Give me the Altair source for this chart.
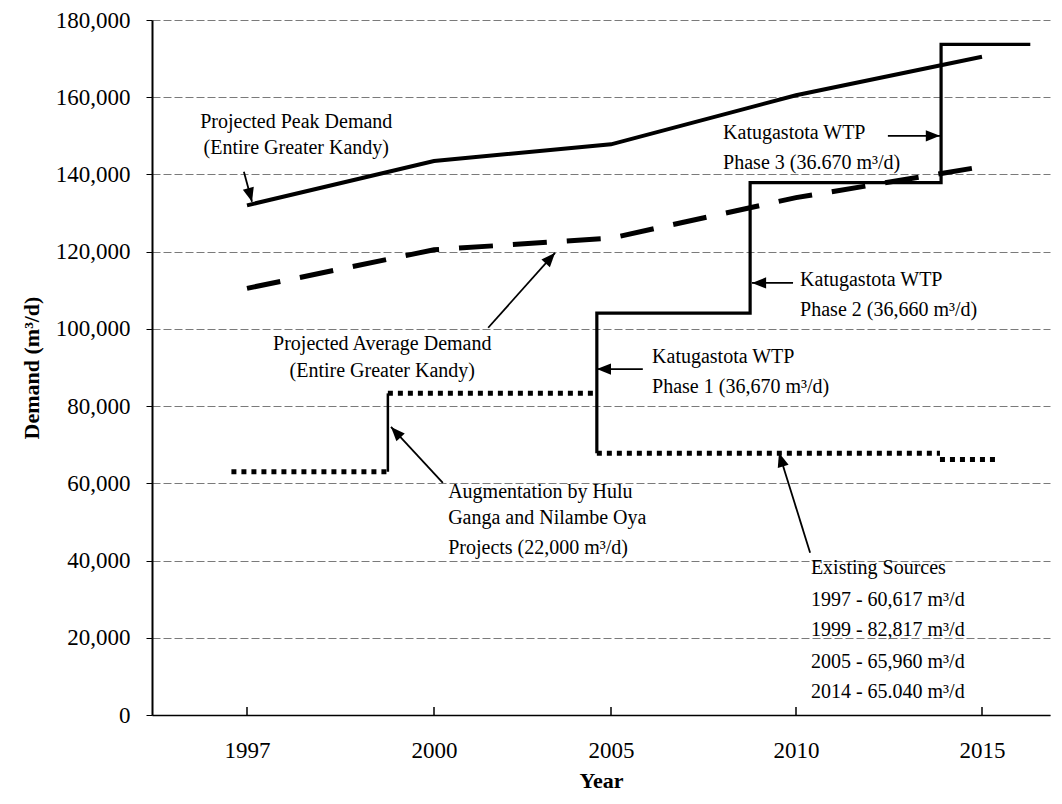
import math
import altair as alt
import pandas as pd
import numpy as np

# ---------------- data ----------------
years = [1997, 2000, 2005, 2010, 2015]
peak_demand = [132000, 143500, 147800, 160500, 170500]
avg_demand = [110500, 120500, 123500, 134000, 142000]

# existing sources (dotted), four horizontal segments
exist_seg = [1, 1, 2, 2, 3, 3, 4, 4]
exist_year = [1996.75, 1999.26, 1999.26, 2004.6, 2004.6, 2013.87, 2013.87, 2015.43]
exist_value = [63000, 63000, 83300, 83300, 67800, 67800, 66200, 66200]

# augmentation by Hulu Ganga / Nilambe Oya (vertical step)
aug_year = [1999.26, 1999.26]
aug_value = [63000, 83300]

# Katugastota WTP capacity steps
cap_year = [2004.6, 2004.6, 2008.76, 2008.76, 2013.9, 2013.9, 2016.3]
cap_value = [67800, 104100, 104100, 137900, 137900, 173700, 173700]

# annotation texts (centre aligned)
c_text = ["Projected Peak Demand", "(Entire Greater Kandy)",
          "Projected Average Demand", "(Entire Greater Kandy)"]
c_year = [1997.79, 1997.79, 1999.17, 1999.17]
c_value = [153600, 146900, 96100, 89100]

# annotation texts (left aligned)
l_text = ["Katugastota WTP", "Phase 3  (36.670 m³/d)",
          "Katugastota WTP", "Phase 2  (36,660 m³/d)",
          "Katugastota WTP", "Phase 1 (36,670 m³/d)",
          "Augmentation by Hulu", "Ganga and Nilambe Oya", "Projects (22,000 m³/d)",
          "Existing Sources", "1997 - 60,617 m³/d", "1999 - 82,817 m³/d",
          "2005 - 65,960 m³/d", "2014 - 65.040 m³/d"]
l_year = [2008.03, 2008.03, 2010.11, 2010.11, 2006.11, 2006.11,
          2000.40, 2000.40, 2000.40,
          2010.40, 2010.40, 2010.40, 2010.40, 2010.40]
l_value = [150800, 143000, 112700, 104900, 92750, 84970,
           57800, 51000, 43300,
           38100, 29800, 22000, 13700, 5960]

# arrows: tail -> head
arr_x1 = [1996.95, 2012.47, 2009.92, 2005.86, 2001.53, 2000.25, 2010.38]
arr_y1 = [140700, 150000, 111900, 89600, 100300, 60100, 42000]
arr_x2 = [1997.08, 2013.87, 2008.81, 2004.60, 2003.42, 1999.31, 2009.54]
arr_y2 = [132900, 150000, 111900, 89600, 119700, 74600, 67900]

# ---------------- layout ----------------
W, H = 898, 695
X_DOMAIN = [1995.476, 1997, 2000, 2005, 2010, 2015, 2016.83]
X_RANGE = [0, 95, 282, 459, 644, 830, 898]
Y_MAX = 180000
FONT = "Liberation Serif"

xscale = alt.Scale(domain=X_DOMAIN, range=X_RANGE, nice=False, zero=False)
yscale = alt.Scale(domain=[0, Y_MAX], nice=False, zero=False)

def px(x):
    return float(np.interp(x, X_DOMAIN, X_RANGE))

def py(v):
    return H - v / Y_MAX * H

angles = []
for a, b, c, d in zip(arr_x1, arr_y1, arr_x2, arr_y2):
    dx = px(c) - px(a)
    dy = py(d) - py(b)
    angles.append(math.degrees(math.atan2(dx, -dy)) % 360)

demand = pd.DataFrame({"year": years, "peak": peak_demand, "avg": avg_demand})
exist = pd.DataFrame({"seg": exist_seg, "year": exist_year, "value": exist_value,
                      "idx": list(range(len(exist_seg)))})
aug = pd.DataFrame({"year": aug_year, "value": aug_value, "idx": [0, 1]})
cap = pd.DataFrame({"year": cap_year, "value": cap_value, "idx": list(range(len(cap_year)))})
ctext = pd.DataFrame({"t": c_text, "year": c_year, "value": c_value})
ltext = pd.DataFrame({"t": l_text, "year": l_year, "value": l_value})
arrows = pd.DataFrame({"x1": arr_x1, "y1": arr_y1, "x2": arr_x2, "y2": arr_y2, "ang": angles})
ticks = pd.DataFrame({"year": years})

x_axis = alt.Axis(values=years, format="d", grid=False, ticks=False, labelPadding=24,
                  title="Year", titlePadding=8, domainColor="black", domainWidth=1.5)
y_axis = alt.Axis(values=list(range(0, Y_MAX + 1, 20000)), format=",d", grid=True,
                  gridColor="#7a7a7a", gridDash=[8, 3], gridWidth=1,
                  tickSize=6, tickColor="black", labelPadding=16,
                  domainColor="black", domainWidth=2,
                  title="Demand (m³/d)", titlePadding=12)

peak = alt.Chart(demand).mark_line(color="black", strokeWidth=4).encode(
    x=alt.X("year:Q", scale=xscale, axis=x_axis),
    y=alt.Y("peak:Q", scale=yscale, axis=y_axis),
)
avg = alt.Chart(demand).mark_line(color="black", strokeWidth=5, strokeDash=[34, 20]).encode(
    x="year:Q", y="avg:Q")
ex = alt.Chart(exist).mark_line(color="black", strokeWidth=5, strokeDash=[5, 5],
                                strokeCap="butt").encode(
    x="year:Q", y="value:Q", detail="seg:N", order="idx:Q")
augl = alt.Chart(aug).mark_line(color="black", strokeWidth=2.5).encode(
    x="year:Q", y="value:Q", order="idx:Q")
capl = alt.Chart(cap).mark_line(color="black", strokeWidth=3.2).encode(
    x="year:Q", y="value:Q", order="idx:Q")
tk = alt.Chart(ticks).mark_rule(color="black", strokeWidth=1.5).encode(
    x="year:Q", y=alt.value(H + 1), y2=alt.value(H - 8))
arr = alt.Chart(arrows).mark_rule(color="black", strokeWidth=1.8).encode(
    x="x1:Q", y="y1:Q", x2="x2:Q", y2="y2:Q")
heads = alt.Chart(arrows).mark_point(shape="M0,0L-0.4,1L0.4,1Z", filled=True, opacity=1,
                                     color="black", size=800).encode(
    x="x2:Q", y="y2:Q", angle=alt.Angle("ang:Q", scale=None))
tc = alt.Chart(ctext).mark_text(font=FONT, fontSize=20, align="center", baseline="middle",
                                color="black").encode(x="year:Q", y="value:Q", text="t:N")
tl = alt.Chart(ltext).mark_text(font=FONT, fontSize=20, align="left", baseline="middle",
                                color="black").encode(x="year:Q", y="value:Q", text="t:N")

chart = alt.layer(peak, avg, ex, augl, capl, tk, arr, heads, tc, tl).properties(
    width=W, height=H, autosize="none",
    padding={"left": 144, "top": 12, "right": 4, "bottom": 81},
    background="white",
).configure_view(stroke=None).configure_axis(
    labelFont=FONT, labelFontSize=23, labelColor="black",
    titleFont=FONT, titleFontSize=22, titleFontWeight="bold", titleColor="black",
)

chart.save("out.html", embed_options={"renderer": "svg", "actions": False})
